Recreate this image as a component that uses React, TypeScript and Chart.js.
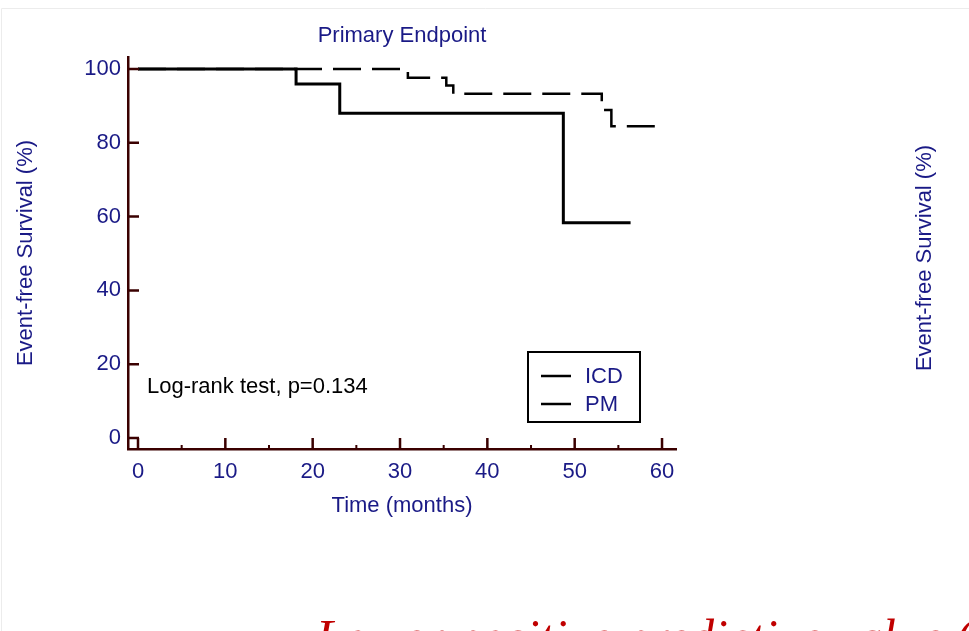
import React, { useEffect, useRef } from "react";
import { Chart, registerables } from "chart.js";
Chart.register(...registerables);

// ---- data ----
const icdTimes = [0, 18.1, 23.1, 48.7, 56.4];
const icdSurvival = [100, 95.9, 88.0, 58.3, 58.3];
const pmTimes = [0, 30.9, 35.3, 36.1, 53.1, 54.2, 60.1];
const pmSurvival = [100, 97.6, 95.5, 93.3, 88.9, 84.5, 84.5];
const xMajorTicks = [0, 10, 20, 30, 40, 50, 60];
const xMinorTicks = [5, 15, 25, 35, 45, 55];
const yTicks = [0, 20, 40, 60, 80, 100];
const seriesNames = ["ICD", "PM"];
const chartTitle = "Primary Endpoint";
const xTitle = "Time (months)";
const yTitle = "Event-free Survival (%)";
const testNote = "Log-rank test, p=0.134";
const footerText = "Lower positive predictive value (16%)";

const NAVY = "#1a1a86";
const AXIS = "#3a0000";
const FONT = "'Liberation Sans', Arial, sans-serif";

const extras = {
  id: "extras",
  afterDraw(chart: any) {
    const { ctx, chartArea } = chart;
    const xs = chart.scales.x;
    const ys = chart.scales.y;
    ctx.save();
    // faint frame of the image
    ctx.strokeStyle = "#ececec";
    ctx.lineWidth = 1;
    ctx.beginPath();
    ctx.moveTo(1.5, 631);
    ctx.lineTo(1.5, 8.5);
    ctx.lineTo(969, 8.5);
    ctx.stroke();

    // inward tick marks
    ctx.strokeStyle = AXIS;
    ctx.lineWidth = 2.5;
    ctx.beginPath();
    yTicks.forEach((v) => {
      const y = ys.getPixelForValue(v);
      ctx.moveTo(chartArea.left, y);
      ctx.lineTo(chartArea.left + 11, y);
    });
    xMajorTicks.forEach((v) => {
      const x = xs.getPixelForValue(v);
      ctx.moveTo(x, chartArea.bottom);
      ctx.lineTo(x, chartArea.bottom - 11);
    });
    ctx.stroke();
    ctx.lineWidth = 2;
    ctx.beginPath();
    xMinorTicks.forEach((v) => {
      const x = xs.getPixelForValue(v);
      ctx.moveTo(x, chartArea.bottom);
      ctx.lineTo(x, chartArea.bottom - 4);
    });
    ctx.stroke();

    // log-rank note
    ctx.fillStyle = "#000";
    ctx.font = `22px ${FONT}`;
    ctx.textBaseline = "middle";
    ctx.textAlign = "left";
    ctx.fillText(testNote, 147, 387);

    // legend
    ctx.strokeStyle = "#000";
    ctx.lineWidth = 2;
    ctx.strokeRect(528, 352, 112, 70);
    const rows = [376, 404];
    chart.data.datasets.forEach((ds: any, i: number) => {
      ctx.strokeStyle = "#000";
      ctx.lineWidth = 2.5;
      ctx.setLineDash([]);
      ctx.beginPath();
      ctx.moveTo(541, rows[i]);
      ctx.lineTo(571, rows[i]);
      ctx.stroke();
      ctx.fillStyle = NAVY;
      ctx.fillText(seriesNames[i], 585, rows[i] + 1);
    });

    // right-side cropped axis title
    ctx.save();
    ctx.translate(925, 258);
    ctx.rotate(-Math.PI / 2);
    ctx.textAlign = "center";
    ctx.fillStyle = NAVY;
    ctx.font = `22px ${FONT}`;
    ctx.fillText(yTitle, 0, 0);
    ctx.restore();

    // clipped red footer
    ctx.fillStyle = "#c00000";
    ctx.font = "italic 50px 'Liberation Serif', 'Times New Roman', serif";
    ctx.textBaseline = "alphabetic";
    ctx.textAlign = "left";
    ctx.fillText(footerText, 316, 654);
    ctx.restore();
  },
};

export default function App() {
  const ref = useRef<HTMLCanvasElement | null>(null);
  useEffect(() => {
    if (!ref.current) return;
    const font = { family: FONT, size: 22, weight: "normal" as const };
    const chart = new Chart(ref.current, {
      type: "line",
      data: {
        datasets: [
          {
            label: seriesNames[0],
            data: icdTimes.map((t, i) => ({ x: t, y: icdSurvival[i] })),
            stepped: "before",
            borderColor: "#000",
            borderWidth: 3,
            pointRadius: 0,
            fill: false,
          },
          {
            label: seriesNames[1],
            data: pmTimes.map((t, i) => ({ x: t, y: pmSurvival[i] })),
            stepped: "before",
            borderColor: "#000",
            borderWidth: 2.5,
            borderDash: [28, 11],
            pointRadius: 0,
            fill: false,
          },
        ],
      },
      options: {
        animation: false,
        responsive: false,
        maintainAspectRatio: false,
        layout: { padding: { left: 0, right: 293, top: 0, bottom: 0 } },
        plugins: {
          legend: { display: false },
          tooltip: { enabled: false },
          title: {
            display: true,
            text: chartTitle,
            color: NAVY,
            font,
            fullSize: false,
            padding: { top: 23, bottom: 7.6 },
          },
        },
        scales: {
          x: {
            type: "linear",
            min: -1.145,
            max: 61.6,
            afterBuildTicks: (s: any) => {
              s.ticks = xMajorTicks.map((v) => ({ value: v }));
            },
            afterFit: (s: any) => {
              s.height = 182;
            },
            ticks: { color: NAVY, font, padding: 10, autoSkip: false, maxRotation: 0 },
            grid: { display: false, drawTicks: false },
            border: { display: true, color: AXIS, width: 2.5 },
            title: {
              display: true,
              text: xTitle,
              color: NAVY,
              font,
              padding: { top: 0, bottom: 111.8 },
            },
          },
          y: {
            type: "linear",
            min: -2.98,
            max: 103.25,
            afterBuildTicks: (s: any) => {
              s.ticks = yTicks.map((v) => ({ value: v }));
            },
            afterFit: (s: any) => {
              s.width = 128;
            },
            ticks: { color: NAVY, font, padding: 7 },
            grid: { display: false, drawTicks: false },
            border: { display: true, color: AXIS, width: 2.5 },
            title: {
              display: true,
              text: yTitle,
              color: NAVY,
              font,
              padding: { top: 12.5, bottom: 0 },
            },
          },
        },
      },
      plugins: [extras],
    } as any);
    return () => chart.destroy();
  }, []);
  return (
    <div style={{ position: "absolute", left: 0, top: 0, width: 969, height: 631, overflow: "hidden", background: "#fff" }}>
      <canvas ref={ref} width={969} height={631} style={{ display: "block" }} />
    </div>
  );
}
